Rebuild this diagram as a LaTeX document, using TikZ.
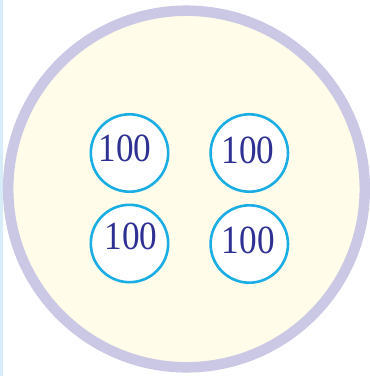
\documentclass[tikz,border=0pt]{standalone}
\usepackage{fontspec}
\setmainfont{Liberation Serif}
\definecolor{rimcol}{RGB}{202,200,228}
\definecolor{fillcol}{RGB}{255,252,234}
\definecolor{coincol}{RGB}{26,173,228}
\definecolor{numcol}{RGB}{46,49,146}
\definecolor{stripcol}{RGB}{214,236,249}
\tikzset{
  coin/.style={circle, draw=coincol, line width=2.6pt, fill=white, minimum size=77.4pt, inner sep=0pt},
  num/.style={inner sep=0pt, text=numcol, font=\fontsize{40}{40}\selectfont, xscale=0.88}
}
\begin{document}
\begin{tikzpicture}[x=1pt,y=-1pt]
\useasboundingbox (0,0) rectangle (370,376);
\clip (0,0) rectangle (370,376);
\fill[white] (0,0) rectangle (370,376);
\fill[stripcol] (0,0) rectangle (2.6,376);
\draw[rimcol, line width=10.5pt, fill=fillcol] (186.5,189) circle[radius=178.3];
\node[coin] (c1) at (129.5,153) {};
\node[coin] (c2) at (249.3,153) {};
\node[coin] (c3) at (129.5,243.5) {};
\node[coin] (c4) at (249.3,244) {};
\node[num] (t1) at (125,148.3) {100};
\node[num] (t2) at (248,150) {100};
\node[num] (t3) at (131,236.7) {100};
\node[num] (t4) at (248.3,240.8) {100};
\end{tikzpicture}
\end{document}
